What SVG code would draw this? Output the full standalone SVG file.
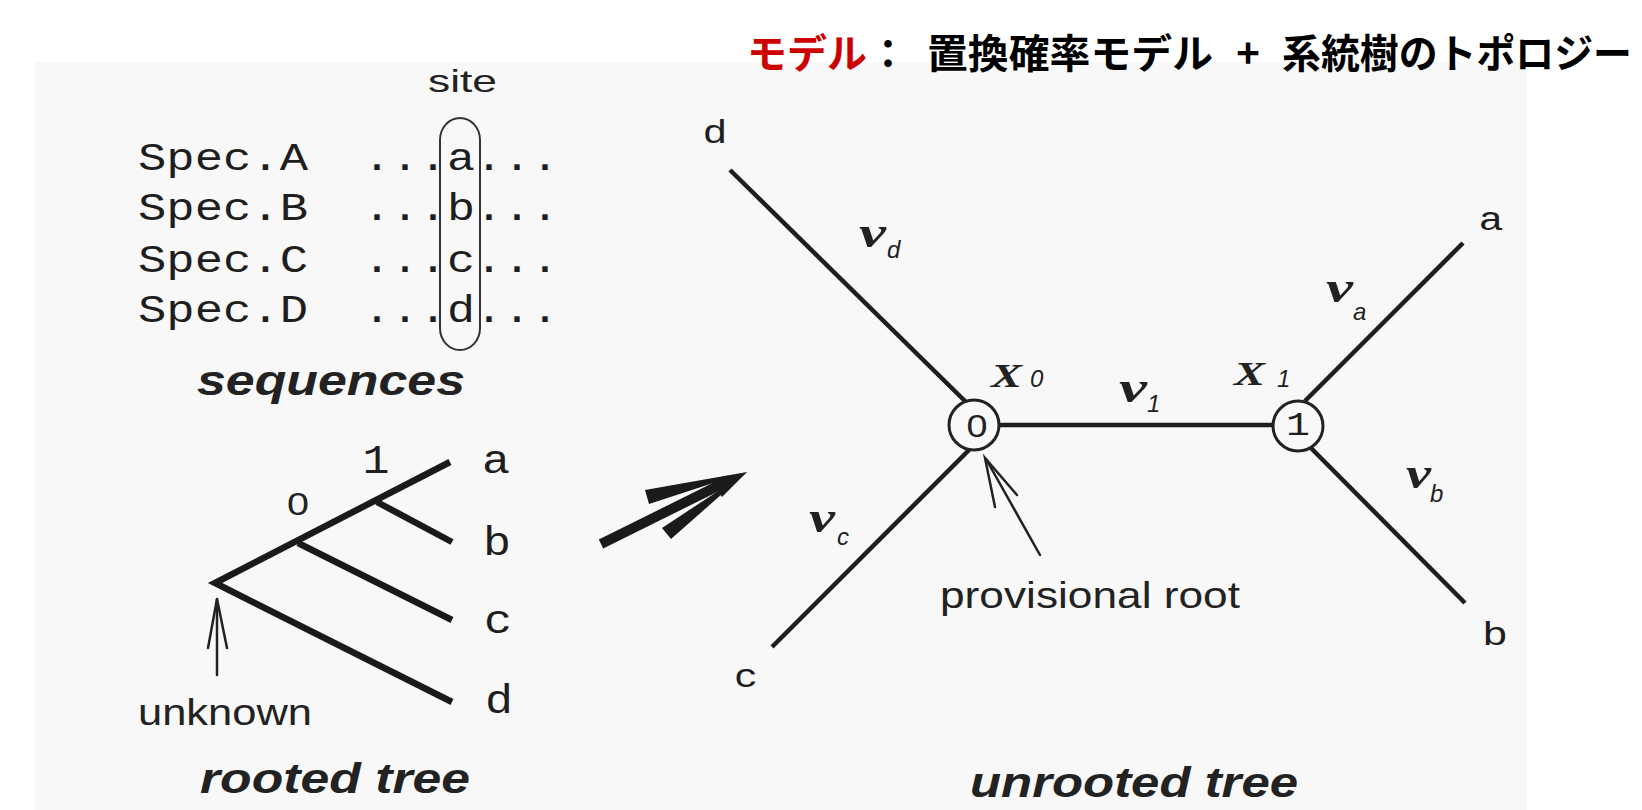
<svg xmlns="http://www.w3.org/2000/svg" width="1642" height="810" viewBox="0 0 1642 810">
  <style>
    .jp{font-family:"Noto Sans CJK JP",sans-serif;font-weight:bold;font-size:40px;fill:#000}
    .mono{font-family:"Liberation Mono",monospace;fill:#1e1e1e}
    .sans{font-family:"Liberation Sans",sans-serif;fill:#222}
    .cap{font-family:"Liberation Sans",sans-serif;font-weight:bold;font-style:italic;font-size:42px;fill:#222}
    .v{font-family:"Liberation Serif",serif;font-weight:bold;font-style:italic;font-size:44px;fill:#222}
    .sub{font-family:"Liberation Sans",sans-serif;font-style:italic;font-size:24px;fill:#222}
    .X{font-family:"Liberation Serif",serif;font-weight:bold;font-style:italic;font-size:34px;fill:#222}
    .tree{stroke:#1a1a1a;stroke-width:6.5;fill:none;stroke-linejoin:miter;stroke-linecap:butt}
    .edge{stroke:#1e1e1e;stroke-width:4.5;fill:none;stroke-linecap:butt}
    .thin{stroke:#222;stroke-width:2.5;fill:none;stroke-linecap:round}
    .node{fill:#f8f8f8;stroke:#222;stroke-width:3}
  </style>
  <rect x="0" y="0" width="1642" height="810" fill="#ffffff"/>
  <rect x="35" y="62" width="1492" height="748" fill="#f8f8f8"/>

  <g id="title">
    <text class="jp" x="747" y="68" style="fill:#cc0000" textLength="120" lengthAdjust="spacingAndGlyphs">モデル</text>
    <text class="jp" x="868" y="68">：</text>
    <text class="jp" x="927" y="68" textLength="286" lengthAdjust="spacingAndGlyphs">置換確率モデル</text>
    <text class="jp" x="1248" y="68" text-anchor="middle">+</text>
    <text class="jp" x="1282" y="68" textLength="350" lengthAdjust="spacingAndGlyphs">系統樹のトポロジー</text>
  </g>

  <g id="sequences">
    <text class="sans" x="428" y="92" font-size="32" textLength="69" lengthAdjust="spacingAndGlyphs">site</text>
    <rect x="440" y="118" width="40" height="232" rx="20" ry="22" fill="none" stroke="#333" stroke-width="2"/>
    <g class="mono" font-size="38">
      <text x="138" y="170" textLength="170" lengthAdjust="spacingAndGlyphs">Spec.A</text>
      <text x="138" y="220" textLength="170" lengthAdjust="spacingAndGlyphs">Spec.B</text>
      <text x="138" y="272" textLength="170" lengthAdjust="spacingAndGlyphs">Spec.C</text>
      <text x="138" y="322" textLength="170" lengthAdjust="spacingAndGlyphs">Spec.D</text>
      <text x="363" y="170" textLength="196" lengthAdjust="spacingAndGlyphs">...a...</text>
      <text x="363" y="220" textLength="196" lengthAdjust="spacingAndGlyphs">...b...</text>
      <text x="363" y="272" textLength="196" lengthAdjust="spacingAndGlyphs">...c...</text>
      <text x="363" y="322" textLength="196" lengthAdjust="spacingAndGlyphs">...d...</text>
    </g>
    <text class="cap" x="197" y="395" textLength="268" lengthAdjust="spacingAndGlyphs">sequences</text>
  </g>

  <g id="rooted-tree">
    <polyline class="tree" points="450,462 215,583 452,702"/>
    <line class="tree" x1="377" y1="502" x2="452" y2="542"/>
    <line class="tree" x1="298" y1="543" x2="452" y2="620"/>
    <g class="mono" font-size="40" text-anchor="middle">
      <text x="376" y="473" textLength="27" lengthAdjust="spacingAndGlyphs">1</text>
      <text x="496" y="473" textLength="28" lengthAdjust="spacingAndGlyphs">a</text>
      <text x="497" y="555" textLength="28" lengthAdjust="spacingAndGlyphs">b</text>
      <text x="498" y="633" textLength="28" lengthAdjust="spacingAndGlyphs">c</text>
      <text x="499" y="713" textLength="28" lengthAdjust="spacingAndGlyphs">d</text>
    </g>
    <text class="sans" x="298" y="515" font-size="31" text-anchor="middle" textLength="22" lengthAdjust="spacingAndGlyphs">0</text>
    <line class="thin" x1="217" y1="675" x2="217" y2="599"/>
    <polyline class="thin" points="208,648 217,599 227,648"/>
    <text class="sans" x="138" y="725" font-size="36" textLength="174" lengthAdjust="spacingAndGlyphs">unknown</text>
    <text class="cap" x="200" y="793" textLength="270" lengthAdjust="spacingAndGlyphs">rooted tree</text>
  </g>

  <g id="transform-arrow" fill="#1a1a1a">
    <line x1="601" y1="544" x2="730" y2="480" stroke="#1a1a1a" stroke-width="10"/>
    <polygon points="747,472 645,490 649,504"/>
    <polygon points="747,472 662,528 671,539"/>
    <polygon points="747,472 712,482 722,497"/>
  </g>

  <g id="connectors">
    <line class="edge" x1="730" y1="170" x2="969" y2="405"/>
    <line class="edge" x1="772" y1="647" x2="971" y2="448"/>
    <line class="edge" x1="974" y1="425" x2="1298" y2="425"/>
    <line class="edge" x1="1463" y1="243" x2="1305" y2="401"/>
    <line class="edge" x1="1465" y1="603" x2="1305" y2="442"/>
  </g>

  <g id="node-x0">
    <circle class="node" cx="974" cy="425" r="25"/>
    <text class="sans" x="977" y="437" font-size="32" text-anchor="middle" textLength="21" lengthAdjust="spacingAndGlyphs">0</text>
    <text class="X" x="991" y="387" textLength="31" lengthAdjust="spacingAndGlyphs">X</text>
    <text class="sub" x="1030" y="387" font-size="22">0</text>
  </g>
  <g id="node-x1">
    <circle class="node" cx="1298" cy="426" r="25"/>
    <text class="mono" x="1298" y="435" font-size="34" text-anchor="middle" textLength="24" lengthAdjust="spacingAndGlyphs">1</text>
    <text class="X" x="1234" y="385" textLength="31" lengthAdjust="spacingAndGlyphs">X</text>
    <text class="sub" x="1277" y="387" font-size="22">1</text>
  </g>

  <g id="leaf-a"><text class="mono" x="1491" y="230" font-size="34" text-anchor="middle" textLength="25" lengthAdjust="spacingAndGlyphs">a</text></g>
  <g id="leaf-b"><text class="mono" x="1495" y="645" font-size="34" text-anchor="middle" textLength="26" lengthAdjust="spacingAndGlyphs">b</text></g>
  <g id="leaf-c"><text class="mono" x="746" y="687" font-size="34" text-anchor="middle" textLength="24" lengthAdjust="spacingAndGlyphs">c</text></g>
  <g id="leaf-d"><text class="mono" x="715" y="143" font-size="34" text-anchor="middle" textLength="25" lengthAdjust="spacingAndGlyphs">d</text></g>

  <g id="edge-labels">
    <text class="v" x="859" y="247" textLength="27" lengthAdjust="spacingAndGlyphs">v</text><text class="sub" x="887" y="258">d</text>
    <text class="v" x="809" y="532" textLength="26" lengthAdjust="spacingAndGlyphs">v</text><text class="sub" x="837" y="545">c</text>
    <text class="v" x="1119" y="402" textLength="28" lengthAdjust="spacingAndGlyphs">v</text><text class="sub" x="1147" y="412">1</text>
    <text class="v" x="1326" y="302" textLength="27" lengthAdjust="spacingAndGlyphs">v</text><text class="sub" x="1353" y="320">a</text>
    <text class="v" x="1406" y="488" textLength="25" lengthAdjust="spacingAndGlyphs">v</text><text class="sub" x="1430" y="502">b</text>
  </g>

  <g id="provisional-root">
    <line class="thin" x1="1040" y1="555" x2="986" y2="459"/>
    <polyline class="thin" points="995,507 985,458 1017,495"/>
    <text class="sans" x="940" y="608" font-size="36" textLength="300" lengthAdjust="spacingAndGlyphs">provisional root</text>
  </g>
  <text class="cap" x="970" y="797" textLength="328" lengthAdjust="spacingAndGlyphs">unrooted tree</text>
</svg>
